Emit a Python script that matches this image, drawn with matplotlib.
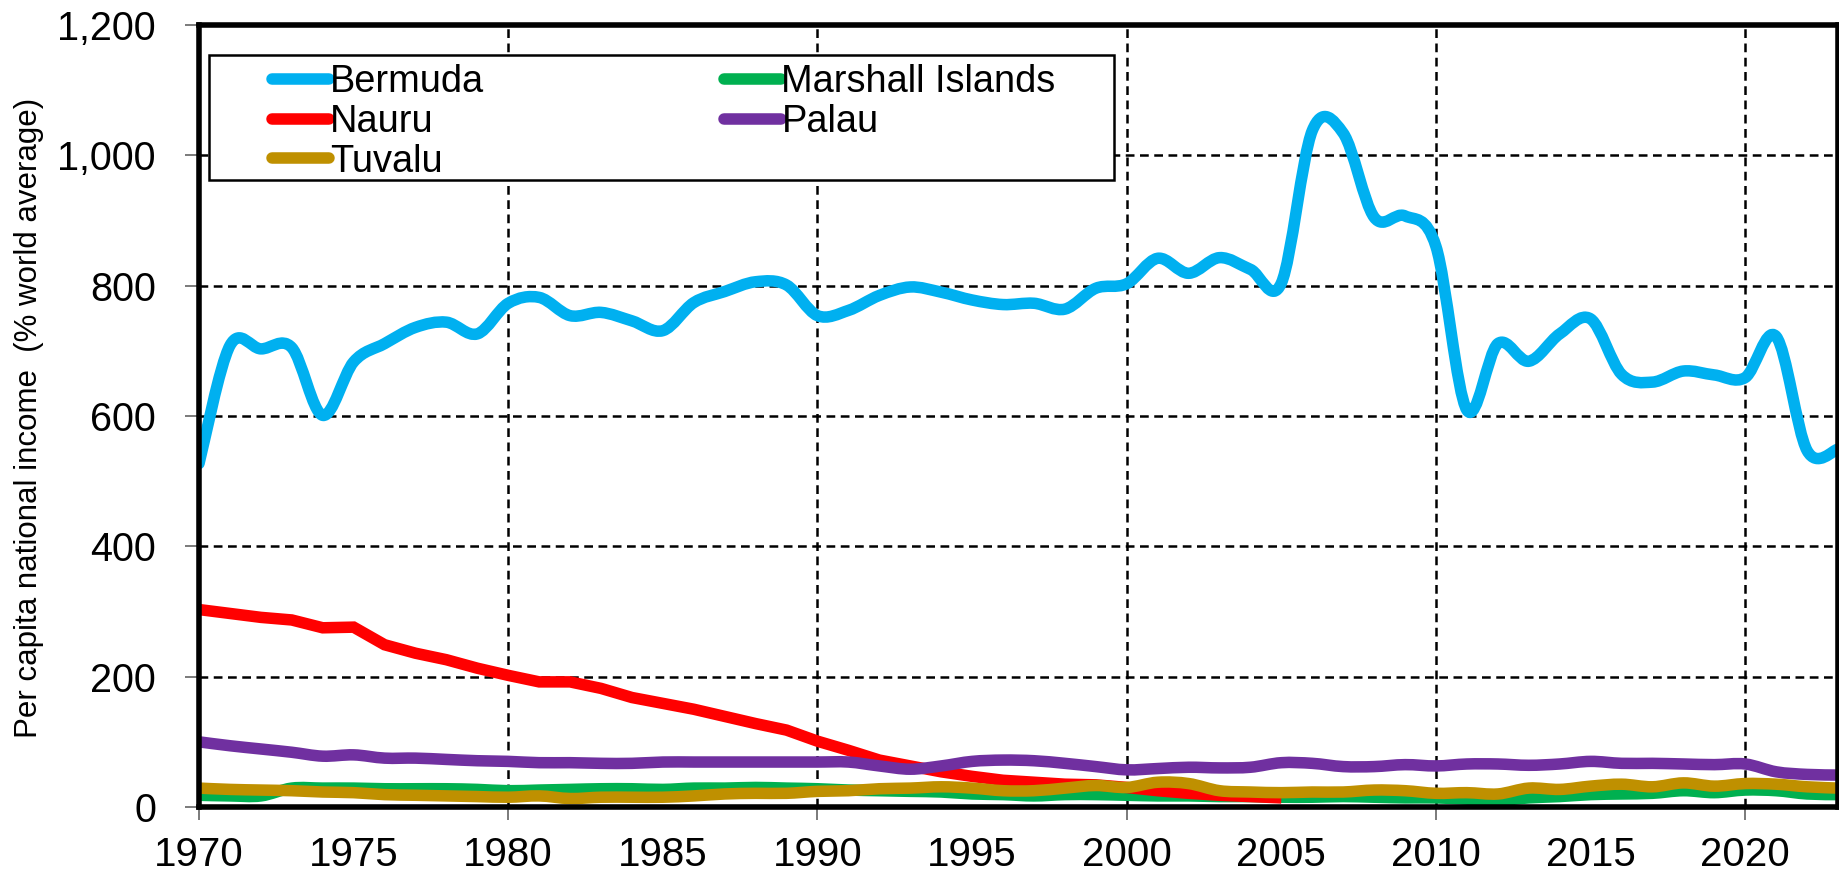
import numpy as np
import matplotlib
matplotlib.use("Agg")
import matplotlib.pyplot as plt
from matplotlib.path import Path
from matplotlib.patches import PathPatch, Rectangle
from matplotlib.lines import Line2D

# ==========================================================
# Data (per capita national income, % of world average)
# ==========================================================

years = list(range(1970, 2024))

bermuda = [527, 708, 703, 705, 601, 683, 711, 736, 744, 726,
           773, 782, 754, 759, 746, 731, 774, 791, 806, 801,
           754, 762, 785, 798, 790, 778, 771, 773, 764, 796,
           803, 842, 819, 843, 825, 804, 1038, 1034, 905, 907,
           860, 609, 711, 684, 726, 749, 664, 652, 669, 663,
           659, 722, 547, 549]

marshall = [18, 17, 17, 29, 29, 29, 28, 28, 28, 27,
            25, 26, 27, 28, 28, 27, 29, 29, 30, 29,
            28, 26, 25, 24, 23, 20, 19, 17, 19, 19,
            18, 17, 17, 16, 16, 15, 15, 16, 15, 14,
            14, 12, 10, 14, 16, 19, 20, 21, 25, 22,
            26, 25, 20, 19]

nauru_years = list(range(1970, 2006))
nauru = [303, 297, 291, 287, 275, 276, 249, 236, 226, 213,
         202, 192, 192, 182, 168, 159, 150, 139, 128, 118,
         101, 87, 72, 63, 54, 47, 41, 38, 35, 34,
         30, 25, 21, 18, 16, 14]

palau = [100, 94, 89, 84, 78, 80, 75, 75, 73, 71,
         70, 68, 68, 67, 67, 69, 69, 69, 69, 69,
         69, 69, 63, 58, 63, 70, 72, 71, 67, 62,
         57, 59, 61, 60, 61, 68, 67, 62, 62, 65,
         63, 66, 66, 64, 66, 70, 67, 67, 66, 65,
         66, 54, 50, 49]

tuvalu = [29, 27, 26, 25, 23, 22, 19, 18, 17, 16,
          15, 17, 13, 15, 15, 15, 17, 20, 21, 21,
          24, 25, 28, 29, 31, 29, 25, 25, 29, 33,
          30, 38, 36, 25, 23, 22, 23, 23, 26, 25,
          21, 22, 20, 29, 27, 32, 35, 31, 37, 32,
          36, 35, 31, 29]

x_label_years = list(range(1970, 2025, 5))
y_ticks = [0, 200, 400, 600, 800, 1000, 1200]
y_tick_labels = ["0", "200", "400", "600", "800", "1,000", "1,200"]

colors = {
    "Bermuda": "#00B0F0",
    "Marshall Islands": "#00B050",
    "Nauru": "#FF0000",
    "Palau": "#7030A0",
    "Tuvalu": "#BF9000",
}

LW = 8.3

plt.rcParams["font.family"] = ["Liberation Sans", "DejaVu Sans"]


def smooth_path(x, y):
    # Excel-like smoothed line: Catmull-Rom segments as cubic Beziers
    pts = np.column_stack([x, y]).astype(float)
    verts = [pts[0]]
    codes = [Path.MOVETO]
    n = len(pts)
    for i in range(n - 1):
        p0 = pts[i - 1] if i > 0 else pts[i]
        p1 = pts[i]
        p2 = pts[i + 1]
        p3 = pts[i + 2] if i + 2 < n else pts[i + 1]
        verts += [p1 + (p2 - p0) / 6.0, p2 - (p3 - p1) / 6.0, p2]
        codes += [Path.CURVE4] * 3
    return Path(verts, codes)


def add_smooth(ax, x, y, color):
    patch = PathPatch(smooth_path(x, y), fill=False, edgecolor=color,
                      linewidth=LW, capstyle="round", joinstyle="round",
                      zorder=2)
    ax.add_patch(patch)


# ==========================================================
# Figure
# ==========================================================

fig = plt.figure(figsize=(18.4, 8.8), dpi=100)
ax = fig.add_axes([199 / 1840, 73 / 880, 1639 / 1840, 782 / 880])

add_smooth(ax, years, bermuda, colors["Bermuda"])
add_smooth(ax, years, marshall, colors["Marshall Islands"])
ax.plot(nauru_years, nauru, color=colors["Nauru"], lw=LW,
        solid_joinstyle="miter", solid_capstyle="butt", zorder=2)
add_smooth(ax, years, palau, colors["Palau"])
add_smooth(ax, years, tuvalu, colors["Tuvalu"])

ax.set_xlim(1970, 2023)
ax.set_ylim(0, 1200)

# ==========================================================
# Axes, ticks, grid
# ==========================================================

ax.set_yticks(y_ticks)
ax.set_yticklabels(y_tick_labels, fontsize=28.5)
ax.tick_params(axis="y", direction="out", length=10, width=1.3,
               color="#707070", pad=21)

major_years = [y for y in x_label_years if y % 10 == 0]
minor_years = [y for y in x_label_years if y % 10 != 0]
ax.set_xticks(major_years)
ax.set_xticklabels([str(y) for y in major_years], fontsize=29)
ax.set_xticks(minor_years, minor=True)
ax.set_xticklabels([str(y) for y in minor_years], minor=True, fontsize=29)
ax.tick_params(axis="x", which="major", direction="out", length=9,
               width=1.3, color="#707070", pad=12)
ax.tick_params(axis="x", which="minor", length=0, pad=21)

ax.set_axisbelow(True)
ax.grid(True, which="major", color="black", lw=1.8,
        linestyle=(0, (3.5, 2.2)))

for s in ax.spines.values():
    s.set_linewidth(4)
    s.set_color("black")

fig.text(29 / 1840, 1 - 418 / 880,
         "Per capita national income  (% world average)",
         rotation=90, ha="center", va="center", fontsize=22.5)

# ==========================================================
# Legend
# ==========================================================

box = Rectangle((0.0061, 0.8018), 0.5522, 0.1598, transform=ax.transAxes,
                facecolor="white", edgecolor="black", lw=1.8, zorder=4)
ax.add_patch(box)

legend_order = ["Bermuda", "Nauru", "Tuvalu", "Marshall Islands", "Palau"]
handles = [Line2D([], [], color=colors[k], lw=LW, solid_capstyle="round")
           for k in legend_order]
leg = ax.legend(handles, legend_order, loc="upper left",
                bbox_to_anchor=(0.0445, 0.950), ncol=2, frameon=False,
                fontsize=27.4, borderpad=0, borderaxespad=0,
                handlelength=1.5, handletextpad=0.02, labelspacing=0.1,
                columnspacing=6.3)
leg.set_zorder(5)

fig.savefig("out.png", dpi=100)
